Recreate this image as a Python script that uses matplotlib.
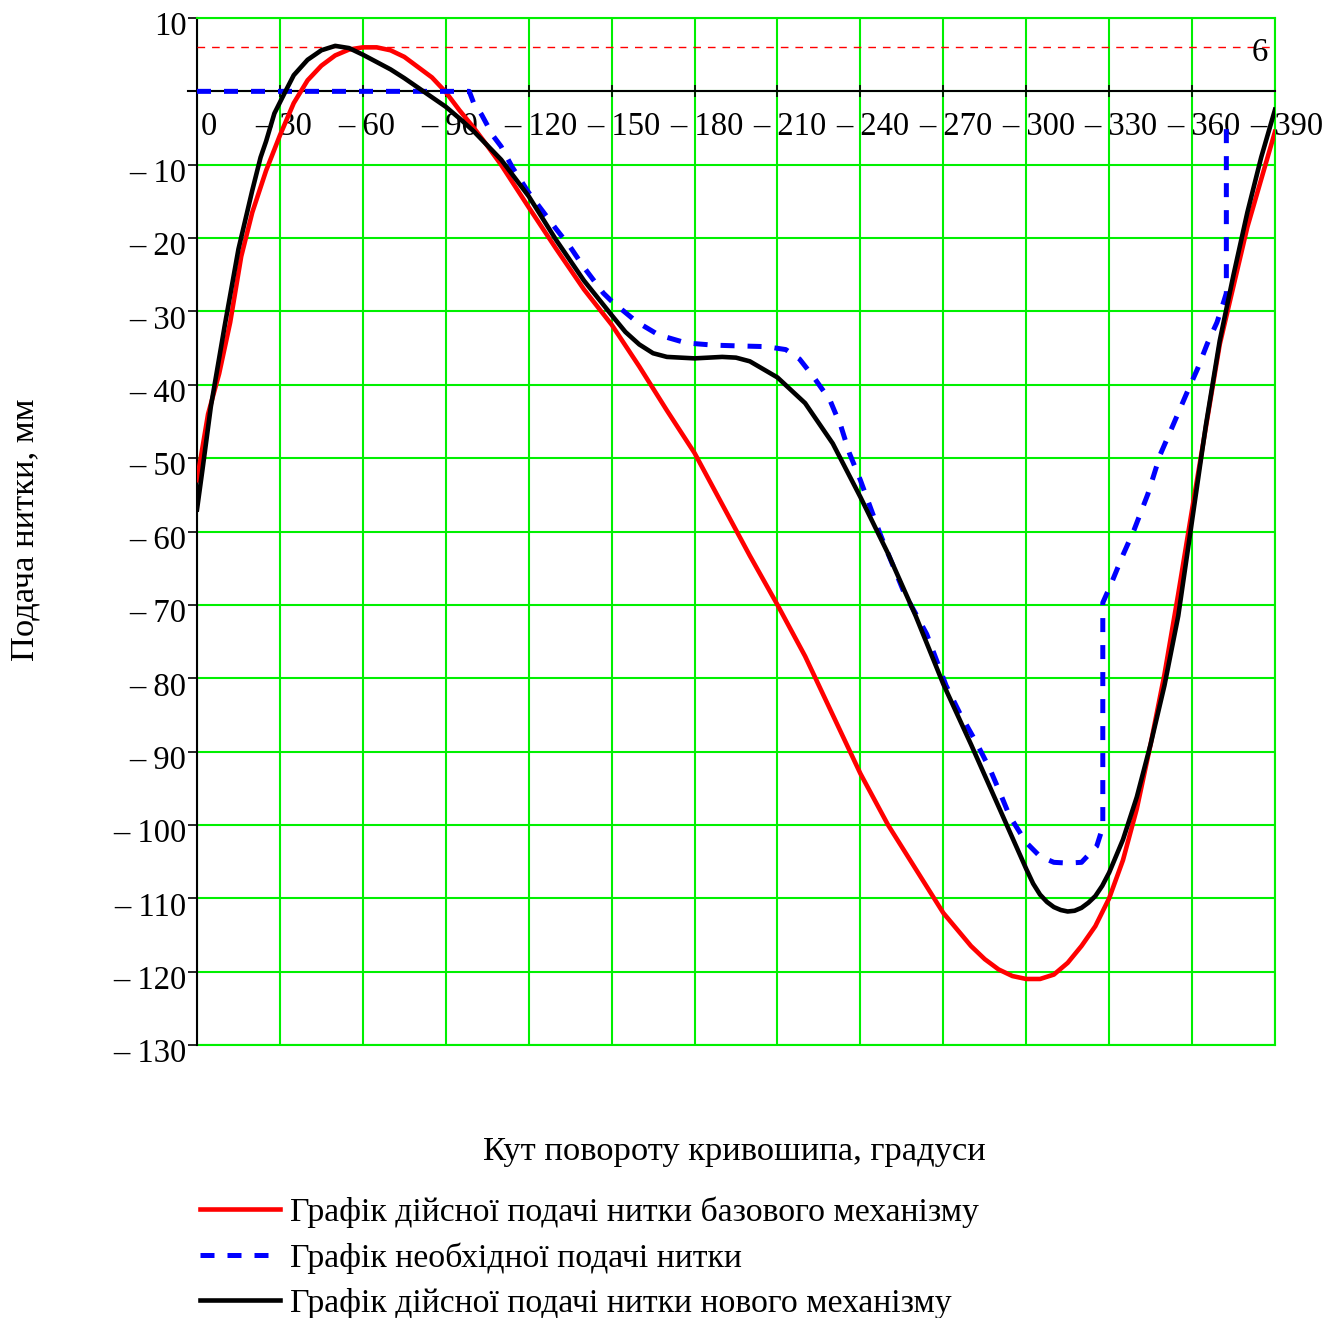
import matplotlib
matplotlib.use('Agg')
import matplotlib.pyplot as plt
import matplotlib.transforms as mtransforms

plt.rcParams['font.family'] = ['Liberation Serif', 'DejaVu Serif']
FS = 23.5      # tick labels
FS_LAB = 24.8  # axis titles
FS_LEG = 24.3  # legend

# crank angle, degrees / thread feed, mm
base_angle = [0, 4, 8, 12, 16, 20, 25, 30, 35, 40, 45, 50, 55, 60, 65, 70, 75, 80, 85, 90,
              95, 100, 105, 110, 120, 130, 140, 150, 160, 170, 180, 190, 200, 210, 220, 230,
              240, 250, 260, 270, 280, 285, 290, 295, 300, 305, 310, 315, 320, 325, 330, 335,
              340, 345, 350, 355, 360, 370, 380, 390]
base_feed = [-53, -44, -38.5, -31.5, -22.5, -16.5, -10.8, -6, -1.6, 1.5, 3.5, 4.9, 5.7, 6, 6, 5.6, 4.7, 3.3, 1.9, -0.1,
             -2.6, -4.9, -7.4, -10, -15.8, -21.5, -27, -31.8, -37.5, -43.5, -49.3, -56.3, -63.3, -70, -77, -85,
             -93, -100, -106, -112, -116.5, -118.3, -119.7, -120.6, -121, -121, -120.4, -118.8, -116.5, -113.8, -110, -104.8,
             -97.8, -89, -79.5, -68.5, -57, -34.5, -18.5, -5.5]

need_angle = [0, 98.5, 100, 103, 107, 110, 114, 120, 130, 135, 140, 147, 150, 159, 167, 177, 187, 196,
              206, 213, 218, 223, 229, 233, 236, 240, 243.5, 247, 250, 256, 260, 264, 271, 276, 282,
              287, 290.5, 294, 300, 305, 310, 315, 320, 325.5, 327.7, 327.7, 330.2, 335, 339, 344,
              348.5, 353, 358, 362, 365.5, 369, 371.6, 372.4, 372.4]
need_feed = [0, 0, -1.5, -3.2, -6, -7.5, -10.3, -13.8, -18.8, -21.2, -24, -27.5, -28.6, -31.4, -33.2, -34.3, -34.6, -34.7,
             -34.8, -35.2, -36.5, -38.9, -42.1, -45.7, -49.3, -53, -56.6, -60.2, -63, -68.5, -71.2, -74, -81, -84.8, -88.8,
             -92.5, -95.6, -98.8, -102.4, -104.3, -105.1, -105.2, -105.1, -102.9, -100.3, -69.7, -67.6, -63.2, -59.8, -54.9,
             -49.5, -45.6, -41.2, -37.8, -34.4, -31.5, -28.5, -27.5, -5]

new_angle = [0, 2, 5, 10, 15, 20, 23, 25, 28, 32, 35, 40, 45, 50, 55, 60, 65, 70, 75, 80, 85, 90, 95,
             100, 110, 120, 130, 140, 150, 155, 160, 165, 170, 180, 190, 195, 200, 210, 220, 230, 240, 250,
             260, 270, 280, 290, 300, 302.5, 305, 307.5, 310, 312.5, 315, 317.5, 320, 322.5, 325, 327.5,
             330, 335, 340, 345, 350, 355, 360, 365, 370, 375, 380, 385, 390]
new_feed = [-57, -51.5, -43, -32, -21.5, -13.5, -9, -6.8, -3, 0, 2.2, 4.3, 5.6, 6.2, 5.9, 5, 4, 3, 1.8, 0.5, -0.8, -2.1, -3.7,
            -5.4, -9.3, -14.3, -20.3, -25.8, -30.5, -32.8, -34.5, -35.7, -36.2, -36.4, -36.2, -36.3, -36.8, -39, -42.5, -48, -55.3, -63,
            -71.5, -80.8, -89, -97.5, -106, -108, -109.5, -110.5, -111.2, -111.6, -111.8, -111.7, -111.3, -110.6, -109.7, -108.3,
            -106.5, -102, -96.2, -89, -81, -71.5, -58.5, -45.5, -34, -25, -16.5, -9, -2.5]

labels = ['Графік дійсної подачі нитки базового механізму',
          'Графік необхідної подачі нитки',
          'Графік дійсної подачі нитки нового механізму']

x_ticks = list(range(0, 391, 30))
y_ticks = list(range(-130, 11, 10))
level = 6

GREEN = '#00f000'

fig = plt.figure(figsize=(13.37, 13.18), dpi=100)
ax = fig.add_axes([197/1337, 1 - 1045/1318, 1078/1337, 1027/1318])
ax.set_xlim(0, 390)
ax.set_ylim(-130, 10)

ax.set_xticks(x_ticks)
ax.set_yticks(y_ticks)
ax.set_yticklabels(['' if v == 0 else ('– %d' % -v if v < 0 else '%d' % v) for v in y_ticks], fontsize=FS)
ax.tick_params(axis='y', direction='out', length=6.5, width=1.2, color='black', pad=1)
ax.tick_params(axis='x', direction='inout', length=9, width=1.2, color='black', labelbottom=False)
ax.grid(True, color=GREEN, lw=1.5)
ax.set_axisbelow(True)

shift = mtransforms.ScaledTranslation(0, -4/72, fig.dpi_scale_trans)
for t in ax.get_yticklabels():
    t.set_transform(t.get_transform() + shift)

for side in ['top', 'right']:
    ax.spines[side].set_color(GREEN)
    ax.spines[side].set_linewidth(1.5)
ax.spines['left'].set_color('black')
ax.spines['left'].set_linewidth(1.5)
ax.spines['bottom'].set_position(('data', 0))
ax.spines['bottom'].set_color('black')
ax.spines['bottom'].set_linewidth(1.5)
ax.spines['bottom'].set_bounds(-3.3, 390)
ax.axhline(-130, color=GREEN, lw=1.5, clip_on=False)

ax.axhline(level, color='red', lw=1, dashes=(5.5, 5), zorder=3)
ax.annotate(str(level), xy=(390, level), xytext=(-5, -9.9), textcoords='offset points',
            ha='right', va='baseline', fontsize=FS)

l1, = ax.plot(base_angle, base_feed, color='red', lw=3.3, zorder=4)
l2, = ax.plot(need_angle, need_feed, color='blue', lw=3.6, dashes=(2.8, 2.6), zorder=5)
l3, = ax.plot(new_angle, new_feed, color='black', lw=3.3, zorder=6)

for t in x_ticks:
    lab = '0' if t == 0 else '– %d' % t
    off = 3 if t == 0 else -0.75 * FS
    ax.annotate(lab, xy=(t, 0), xytext=(off, -31.4), textcoords='offset points',
                ha='left', va='baseline', fontsize=FS, annotation_clip=False)

fig.text(25/1337, 1 - 530/1318, 'Подача нитки, мм', rotation=90, ha='center', va='center', fontsize=FS_LAB)
fig.text(734/1337, 1 - 1160/1318, 'Кут повороту кривошипа, градуси', ha='center', va='baseline', fontsize=FS_LAB)

fig.legend([l1, l2, l3], labels, loc='upper left', bbox_to_anchor=(200/1337, 1 - 1196/1318),
           frameon=False, fontsize=FS_LEG, handlelength=2.37, handletextpad=0.3, labelspacing=0.43,
           borderpad=0, borderaxespad=0)

fig.savefig('out.png', dpi=100)
